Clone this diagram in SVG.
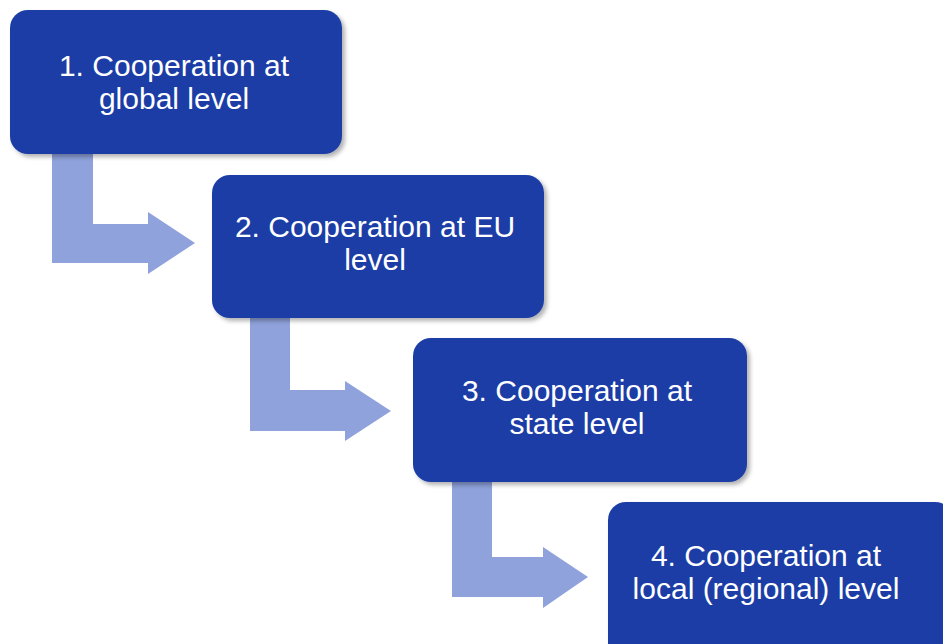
<svg xmlns="http://www.w3.org/2000/svg" width="943" height="644" viewBox="0 0 943 644">
<style>
.box{fill:#1C3DA6;filter:url(#sh);}
.arr{fill:#8FA2DB;}
.t{font-family:"Liberation Sans",Arial,sans-serif;font-size:30px;fill:#ffffff;text-anchor:middle;}
</style>
<defs>
<filter id="sh" x="-5%" y="-5%" width="115%" height="115%">
<feDropShadow dx="3" dy="3" stdDeviation="2" flood-color="#000" flood-opacity="0.3"/>
</filter>
</defs>
<rect width="943" height="644" fill="#ffffff"/>
<g id="connectors">
<path class="arr" d="M52,150 L93,150 L93,224 L148,224 L148,212 L195,243 L148,274 L148,263 L52,263 Z"/>
<path class="arr" d="M250,315 L290,315 L290,390 L345,390 L345,381 L391,411 L345,441 L345,431 L250,431 Z"/>
<path class="arr" d="M452,479 L492,479 L492,557 L543,557 L543,547 L588,577 L543,608 L543,597 L452,597 Z"/>
</g>
<g id="node1">
<rect class="box" x="10" y="10" width="332" height="144" rx="18"/>
<text class="t" x="174" y="76">1. Cooperation at</text>
<text class="t" x="174" y="109">global level</text>
</g>
<g id="node2">
<rect class="box" x="212" y="175" width="332" height="143" rx="18"/>
<text class="t" x="375" y="237">2. Cooperation at EU</text>
<text class="t" x="375" y="270">level</text>
</g>
<g id="node3">
<rect class="box" x="413" y="338" width="334" height="144" rx="18"/>
<text class="t" x="577" y="401">3. Cooperation at</text>
<text class="t" x="577" y="434">state level</text>
</g>
<g id="node4">
<rect class="box" x="608" y="502" width="345" height="160" rx="18"/>
<text class="t" x="766" y="566">4. Cooperation at</text>
<text class="t" x="766" y="599">local (regional) level</text>
</g>
</svg>
